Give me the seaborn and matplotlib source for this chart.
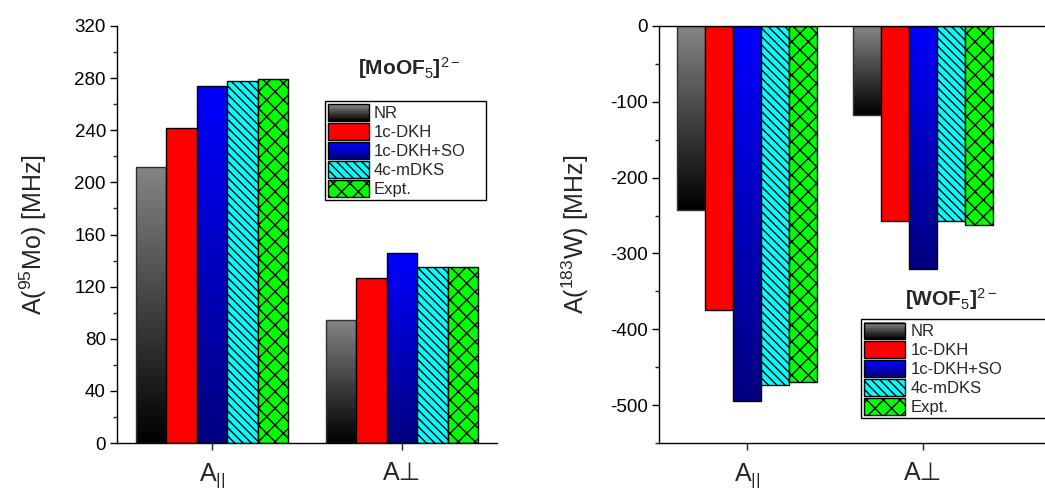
import numpy as np
import pandas as pd
import matplotlib
matplotlib.use("Agg")
import matplotlib.pyplot as plt
import seaborn as sns
from matplotlib.colors import LinearSegmentedColormap
from matplotlib.patches import Patch, Rectangle
from matplotlib.legend_handler import HandlerPatch
from matplotlib.ticker import AutoMinorLocator, MultipleLocator

components = ["A$_{||}$", "A⊥"]
methods = ["NR", "1c-DKH", "1c-DKH+SO", "4c-mDKS", "Expt."]
mo_values = {
    "NR": [212, 94.5],
    "1c-DKH": [242, 127],
    "1c-DKH+SO": [274, 145.5],
    "4c-mDKS": [278, 135],
    "Expt.": [279, 135],
}
w_values = {
    "NR": [-242, -117],
    "1c-DKH": [-374, -257],
    "1c-DKH+SO": [-495, -321],
    "4c-mDKS": [-473, -257],
    "Expt.": [-469, -262],
}

colors = {"NR": "#808080", "1c-DKH": "#ff0000", "1c-DKH+SO": "#0000ff",
          "4c-mDKS": "#00ffff", "Expt.": "#00ff00"}
hatches = {"NR": "", "1c-DKH": "", "1c-DKH+SO": "", "4c-mDKS": "\\\\\\\\", "Expt.": "xx"}
# (bottom colour, top colour) for gradient-filled series
gradients = {"NR": ("#000000", "#858585"), "1c-DKH+SO": ("#000080", "#0000ff")}

sns.set_style("ticks")
plt.rcParams["font.family"] = ["Liberation Sans", "DejaVu Sans"]
plt.rcParams["mathtext.fontset"] = "custom"
plt.rcParams["mathtext.rm"] = "Liberation Sans"
plt.rcParams["mathtext.it"] = "Liberation Sans"
plt.rcParams["mathtext.bf"] = "Liberation Sans:bold"
plt.rcParams["mathtext.default"] = "rm"
plt.rcParams["axes.unicode_minus"] = False
plt.rcParams["hatch.linewidth"] = 1.0


def long_df(values):
    rows = []
    for m in methods:
        for c, v in zip(components, values[m]):
            rows.append({"component": c, "method": m, "value": v})
    return pd.DataFrame(rows)


class GradientHandler(HandlerPatch):
    def __init__(self, bottom, top, **kw):
        super().__init__(**kw)
        self.cmap = LinearSegmentedColormap.from_list("g", [bottom, top])

    def create_artists(self, legend, orig_handle, xdescent, ydescent,
                       width, height, fontsize, trans):
        arts = []
        n = 20
        for i in range(n):
            r = Rectangle((-xdescent, -ydescent + height * i / n), width, height / n + 0.3,
                          facecolor=self.cmap(i / (n - 1)), edgecolor="none", transform=trans)
            arts.append(r)
        arts.append(Rectangle((-xdescent, -ydescent), width, height, facecolor="none",
                              edgecolor="black", lw=1, transform=trans))
        return arts


def draw_panel(ax, values, ylim, xmax, major, title, title_xy, leg_box):
    df = long_df(values)
    sns.barplot(data=df, x="component", y="value", hue="method", hue_order=methods,
                palette=colors, saturation=1, width=0.8, edgecolor="black",
                linewidth=1, legend=False, ax=ax)
    for m, cont in zip(methods, ax.containers):
        for bar in cont:
            bar.set_hatch(hatches[m])
            if m == "NR":
                bar.set_edgecolor("#303030")
            if m in gradients:
                x, y = bar.get_x(), bar.get_y()
                w, h = bar.get_width(), bar.get_height()
                y0, y1 = min(y, y + h), max(y, y + h)
                cmap = LinearSegmentedColormap.from_list("g", list(gradients[m]))
                im = ax.imshow(np.linspace(0, 1, 256).reshape(-1, 1), cmap=cmap,
                               extent=(x, x + w, y0, y1), origin="lower",
                               aspect="auto", zorder=bar.get_zorder() - 0.1)
                im.set_clip_path(bar)
                bar.set_facecolor("none")
    ax.set_xlim(-0.5, xmax)
    ax.set_ylim(*ylim)
    ax.yaxis.set_major_locator(MultipleLocator(major))
    ax.yaxis.set_minor_locator(AutoMinorLocator(2))
    ax.tick_params(axis="y", which="major", direction="out", length=5, width=1,
                   labelsize=13.5, colors="black", pad=3)
    ax.tick_params(axis="y", which="minor", direction="out", length=3, width=1)
    ax.tick_params(axis="x", direction="out", length=5, width=1, labelsize=18, pad=8)
    ax.set_xlabel("")
    for s in ax.spines.values():
        s.set_linewidth(1)
        s.set_color("black")
    ax.text(*title_xy, title, transform=ax.transAxes, ha="center", va="center",
            fontsize=15, fontweight="bold")
    handles = [Patch(facecolor=colors[m], edgecolor="black", hatch=hatches[m], label=m)
               for m in methods]
    hmap = {handles[0]: GradientHandler(*gradients["NR"]),
            handles[2]: GradientHandler(*gradients["1c-DKH+SO"])}
    leg = ax.legend(handles=handles, handler_map=hmap, loc="upper left",
                    bbox_to_anchor=leg_box, mode="expand", fontsize=12, frameon=True,
                    fancybox=False, framealpha=1, edgecolor="black", handlelength=2.45,
                    handleheight=1.15, labelspacing=0.12, handletextpad=0.3,
                    borderpad=0.2, borderaxespad=0)
    leg.get_frame().set_linewidth(1)


fig = plt.figure(figsize=(10.45, 4.99), dpi=100)
ax1 = fig.add_axes([0.112, 0.112, 0.3636, 0.836])
ax2 = fig.add_axes([0.6306, 0.112, 0.3706, 0.836])

draw_panel(ax1, mo_values, (0, 320), 1.5, 40, "[MoOF$_5$]$^{2-}$", (0.77, 0.9),
           (0.547, 0.52, 0.424, 0.30))
ax1.set_ylabel("A($^{95}$Mo) [MHz]", fontsize=18, labelpad=18)
sns.despine(ax=ax1)

draw_panel(ax2, w_values, (-550, 0), 1.7, 100, "[WOF$_5$]$^{2-}$", (0.755, 0.345),
           (0.522, 0.0, 0.5, 0.297))
ax2.set_ylabel("A($^{183}$W) [MHz]", fontsize=18, labelpad=14)
ax2.spines["right"].set_visible(False)

fig.savefig("out.png", dpi=100)
